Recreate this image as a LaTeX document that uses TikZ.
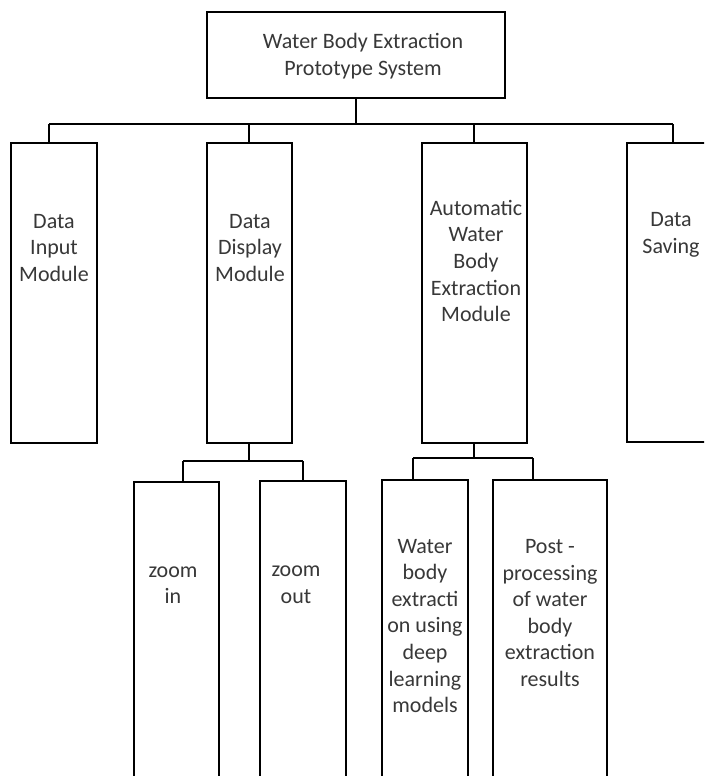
\documentclass[tikz,border=0pt]{standalone}
\usepackage{fontspec}
\setmainfont{Carlito}
\begin{document}
\begin{tikzpicture}[x=1pt,y=-1pt,
  box/.style={draw=black,line width=1.8pt,fill=white,inner sep=0pt,outer sep=0pt,anchor=north west},
  lbl/.style={align=center,inner sep=0pt,text=black!78,font=\fontsize{22}{26.6}\selectfont},
  link/.style={draw=black,line width=1.8pt}]
\useasboundingbox (0,0) rectangle (704,776);
\clip (0,0) rectangle (704,776);
\fill[white] (0,0) rectangle (704,776);
% boxes
\node[box,minimum width=298pt,minimum height=86pt] (top) at (207,12) {};
\node[box,minimum width=86pt,minimum height=300pt] (in) at (11,143) {};
\node[box,minimum width=85pt,minimum height=300pt] (disp) at (207,143) {};
\node[box,minimum width=105pt,minimum height=300pt] (auto) at (422,143) {};
\node[box,minimum width=92pt,minimum height=299pt] (save) at (627,143) {};
\node[box,minimum width=85pt,minimum height=330pt] (zin) at (134,482) {};
\node[box,minimum width=86pt,minimum height=330pt] (zout) at (260,481) {};
\node[box,minimum width=86pt,minimum height=330pt] (wb) at (382,480) {};
\node[box,minimum width=114pt,minimum height=330pt] (post) at (493,480) {};
% labels
\node[lbl] (ttop) at (363,56) {Water Body Extraction\\Prototype System};
\node[lbl] (tin) at (54,248) {Data\\Input\\Module};
\node[lbl] (tdisp) at (250,248) {Data\\Display\\Module};
\node[lbl] (tauto) at (476,261) {Automatic\\Water\\Body\\Extraction\\Module};
\node[lbl] (tsave) at (671,235) {Data\\Saving};
\node[lbl] (tzin) at (173,585) {zoom\\in};
\node[lbl] (tzout) at (296,585) {zoom\\out};
\node[lbl] (twb) at (425,626) {Water\\body\\extracti\\on using\\deep\\learning\\models};
\node[lbl] (tpost) at (550,613) {Post -\\processing\\of water\\body\\extraction\\results};
% bus coordinates
\coordinate (b0) at (356,124);
\coordinate (b1) at (49,124);
\coordinate (b2) at (249,124);
\coordinate (b3) at (474,124);
\coordinate (b4) at (673,124);
\coordinate (d0) at (249,461);
\coordinate (d1) at (183,461);
\coordinate (d2) at (303,461);
\coordinate (a0) at (474,458);
\coordinate (a1) at (413,458);
\coordinate (a2) at (533,458);
% connectors
\draw[link] (top.south -| b0) -- (b0);
\draw[link] (b1) -- (b4);
\draw[link] (b1) -- (b1 |- in.north);
\draw[link] (b2) -- (b2 |- disp.north);
\draw[link] (b3) -- (b3 |- auto.north);
\draw[link] (b4) -- (b4 |- save.north);
\draw[link] (disp.south -| d0) -- (d0);
\draw[link] (d1) -- (d2);
\draw[link] (d1) -- (d1 |- zin.north);
\draw[link] (d2) -- (d2 |- zout.north);
\draw[link] (auto.south -| a0) -- (a0);
\draw[link] (a1) -- (a2);
\draw[link] (a1) -- (a1 |- wb.north);
\draw[link] (a2) -- (a2 |- post.north);
\end{tikzpicture}
\end{document}
